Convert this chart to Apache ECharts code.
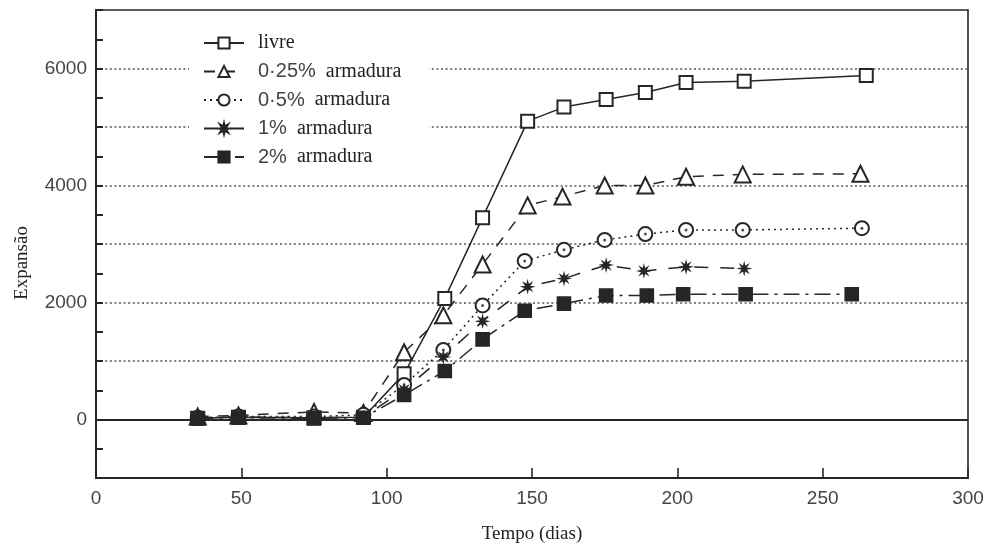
<!DOCTYPE html>
<html>
<head>
<meta charset="utf-8">
<script src="https://cdn.jsdelivr.net/npm/echarts@6/dist/echarts.min.js"></script>
<style>
  html, body { margin: 0; padding: 0; background: #fff; }
  #chart { width: 990px; height: 549px; }
</style>
</head>
<body>
<div id="chart"></div>
<script>
// Expansion over time for the unrestrained specimen and the reinforced ones
const nomes = ['livre', '0·25% armadura', '0·5% armadura', '1% armadura', '2% armadura'];

const diasLivre = [35, 49, 75, 92, 106, 120, 133, 148.5, 161, 175.5, 189, 203, 223, 265];
const livre     = [20, 40, 30, 40, 780, 2070, 3450, 5100, 5340, 5470, 5590, 5760, 5780, 5880];

const diasArm025 = [35, 49, 75, 92, 106, 119.5, 133, 148.5, 160.5, 175, 189, 203, 222.5, 263];
const arm025     = [50, 70, 130, 110, 1150, 1780, 2650, 3660, 3810, 4000, 4000, 4150, 4190, 4200];

const diasArm05 = [35, 49, 75, 92, 106, 119.5, 133, 147.5, 161, 175, 189, 203, 222.5, 263.5];
const arm05     = [30, 50, 50, 80, 590, 1190, 1950, 2710, 2900, 3070, 3170, 3240, 3240, 3270];

const diasArm1 = [35, 49, 75, 92, 106, 119.5, 133, 148.5, 161, 175.5, 188.5, 203, 223];
const arm1     = [30, 40, 30, 40, 510, 1070, 1680, 2270, 2410, 2640, 2540, 2610, 2580];

const diasArm2 = [35, 49, 75, 92, 106, 120, 133, 147.5, 161, 175.5, 189.5, 202, 223.5, 260];
const arm2     = [20, 30, 20, 30, 420, 830, 1370, 1860, 1980, 2120, 2120, 2140, 2140, 2140];

const xTicks = [0, 50, 100, 150, 200, 250, 300];
const yLabels = [0, 2000, 4000, 6000];

const pares = (xs, ys) => xs.map((x, i) => [x, ys[i]]);

// small asterisk-like marker for the 1% series
function estrela(n, ro, ri) {
  let d = '';
  for (let i = 0; i < 2 * n; i++) {
    const a = i * Math.PI / n - Math.PI / 2;
    const r = i % 2 ? ri : ro;
    d += (i ? 'L' : 'M') + (10 + r * Math.cos(a)).toFixed(2) + ' ' + (10 + r * Math.sin(a)).toFixed(2);
  }
  return 'path://' + d + 'Z';
}

const INK = '#262626';
const SANS = '"Liberation Sans", Arial, sans-serif';
const SERIF = '"Liberation Serif", "Times New Roman", serif';

function serie(nome, dados, simbolo, tamanho, tipoLinha, extra) {
  return Object.assign({
    name: nome,
    type: 'line',
    data: dados,
    symbol: simbolo,
    symbolSize: tamanho,
    showAllSymbol: true,
    lineStyle: { color: INK, width: 1.5, type: tipoLinha },
    itemStyle: { color: INK, borderColor: INK, borderWidth: 1.6 },
    emphasis: { disabled: true },
    animation: false,
    z: 3
  }, extra || {});
}

const chart = echarts.init(document.getElementById('chart'), null, { renderer: 'canvas' });

chart.setOption({
  backgroundColor: '#fff',
  animation: false,
  grid: {
    left: 96, right: 22, top: 10, bottom: 67,
    show: true, borderColor: INK, borderWidth: 1.6, backgroundColor: 'transparent'
  },
  legend: {
    data: nomes,
    orient: 'vertical',
    left: 189, top: 28,
    padding: [5, 28, 6, 14],
    backgroundColor: '#fff',
    itemWidth: 40, itemHeight: 14, itemGap: 8.5,
    selectedMode: false,
    textStyle: {
      color: '#222', fontSize: 20, fontFamily: SERIF, padding: [0, 0, 0, 9],
      rich: {
        n: { fontFamily: SANS, fontSize: 20, color: '#444' },
        w: { fontFamily: SERIF, fontSize: 20, color: '#222' }
      }
    },
    formatter: function (name) {
      const i = name.indexOf(' ');
      if (i < 0) return '{w|' + name + '}';
      return '{n|' + name.slice(0, i) + '}{w|  ' + name.slice(i + 1) + '}';
    },
    z: 10
  },
  xAxis: {
    type: 'value',
    min: xTicks[0], max: xTicks[xTicks.length - 1], interval: 50,
    name: 'Tempo (dias)',
    nameLocation: 'middle',
    nameGap: 47,
    nameTextStyle: { fontFamily: SERIF, fontSize: 19, color: '#222' },
    axisLine: { onZero: false, lineStyle: { color: INK, width: 2 } },
    axisTick: { inside: true, length: 10, lineStyle: { color: INK, width: 1.6 } },
    axisLabel: {
      fontFamily: SANS, fontSize: 19, color: '#444', margin: 11,
      formatter: v => xTicks.indexOf(v) >= 0 ? String(v) : ''
    },
    splitLine: { show: false }
  },
  yAxis: {
    type: 'value',
    min: -1000, max: 7000, interval: 1000,
    name: 'Expansão',
    nameLocation: 'middle',
    nameGap: 64,
    nameTextStyle: { fontFamily: SERIF, fontSize: 19, color: '#222', padding: [0, 0, 0, -38] },
    axisLine: { onZero: false, lineStyle: { color: INK, width: 2 } },
    axisTick: { inside: true, length: 7, lineStyle: { color: INK, width: 2 } },
    minorTick: { show: true, splitNumber: 2, length: 7, lineStyle: { color: INK, width: 2 } },
    axisLabel: {
      fontFamily: SANS, fontSize: 19, color: '#444', margin: 9,
      formatter: v => yLabels.indexOf(v) >= 0 ? String(v) : ''
    },
    splitLine: {
      show: true, showMinLine: false, showMaxLine: false,
      lineStyle: { color: '#555', width: 1.6, type: [2, 2.6] }
    }
  },
  series: [
    serie(nomes[0], pares(diasLivre, livre), 'emptyRect', 13, 'solid', {
      markLine: {
        silent: true, symbol: 'none', label: { show: false },
        lineStyle: { color: INK, width: 1.8, type: 'solid' },
        data: [{ yAxis: 0 }],
        animation: false, z: 2
      }
    }),
    serie(nomes[1], pares(diasArm025, arm025), 'emptyTriangle', 16, [11, 9]),
    serie(nomes[2], pares(diasArm05, arm05), 'emptyCircle', 14, [2, 4]),
    serie(nomes[3], pares(diasArm1, arm1), estrela(8, 10, 4), 9, [14, 12]),
    serie(nomes[4], pares(diasArm2, arm2), 'rect', 13, [16, 6, 3, 6]),
    // centre dots of the circle markers
    {
      name: 'centro', type: 'scatter', data: pares(diasArm05, arm05),
      symbol: 'circle', symbolSize: 3, itemStyle: { color: INK },
      silent: true, animation: false, z: 4
    }
  ]
});
</script>
</body>
</html>
